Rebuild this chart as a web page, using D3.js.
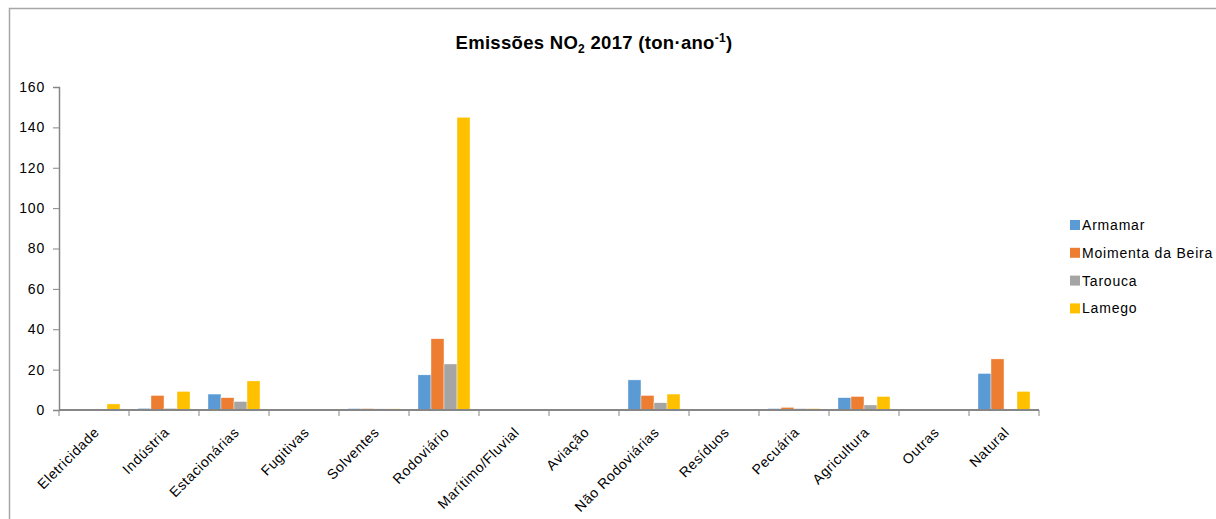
<!DOCTYPE html>
<html><head><meta charset="utf-8">
<script src="https://cdn.jsdelivr.net/npm/d3@7"></script>
<style>body{margin:0;background:#fff}svg{display:block}text{font-family:"Liberation Sans",Arial,sans-serif;fill:#000}</style>
</head><body>
<svg id="c" width="1216" height="519"></svg>
<script>
const categories = ["Eletricidade","Indústria","Estacionárias","Fugitivas","Solventes","Rodoviário","Marítimo/Fluvial","Aviação","Não Rodoviárias","Resíduos","Pecuária","Agricultura","Outras","Natural"];
const seriesNames = ["Armamar","Moimenta da Beira","Tarouca","Lamego"];
const armamar  = [0, 0.8, 7.9, 0, 0.7, 17.4, 0, 0, 14.9, 0, 0.7, 6.1, 0, 18.1];
const moimenta = [0, 7.2, 6.1, 0, 0.7, 35.3, 0, 0, 7.2, 0, 1.3, 6.7, 0, 25.3];
const tarouca  = [0, 0.8, 4.2, 0, 0.6, 22.8, 0, 0, 3.6, 0, 0.7, 2.5, 0, 0];
const lamego   = [3.0, 9.2, 14.4, 0, 0.6, 145, 0, 0, 7.9, 0, 0.7, 6.7, 0, 9.2];
const yTicks = [0,20,40,60,80,100,120,140,160];
const colors = ["#5B9BD5","#ED7D31","#A5A5A5","#FFC000"];
const seriesValues = [armamar, moimenta, tarouca, lamego];

const svg = d3.select("#c");
// outer frame
svg.append("path").attr("d","M9.5,530 V8.5 H1230").attr("fill","none").attr("stroke","#a6a6a6").attr("stroke-width",1.5);

const x0 = d3.scaleBand().domain(categories).range([59,1039]).paddingInner(0).paddingOuter(0);
const x1 = d3.scaleBand().domain(seriesNames).range([0,x0.bandwidth()]).paddingOuter(0.69).paddingInner(0);
const y = d3.scaleLinear().domain([0,160]).range([410,87]);

// bars
seriesNames.forEach((s,si)=>{
  svg.append("g").selectAll("rect").data(categories).join("rect")
    .attr("x",c=>x0(c)+x1(s))
    .attr("width",x1.bandwidth())
    .attr("y",(c,i)=>y(seriesValues[si][i]))
    .attr("height",(c,i)=>y(0)-y(seriesValues[si][i]))
    .attr("fill",colors[si])
    .attr("stroke","#fff").attr("stroke-width",0.4);
});

// y axis
const ya = svg.append("g").attr("transform","translate(59,0)")
  .call(d3.axisLeft(y).tickValues(yTicks).tickSize(6).tickPadding(8).tickFormat(d3.format("d")));
ya.select(".domain").attr("stroke","#868686").attr("stroke-width",1.5);
ya.selectAll(".tick line").attr("stroke","#868686");
ya.selectAll(".tick text").attr("font-size",14).attr("letter-spacing","0.8px")
  .attr("font-family","Liberation Sans, Arial, sans-serif").attr("fill","#000");

// x axis
const xa = svg.append("g").attr("transform","translate(0,410)");
xa.append("line").attr("x1",59).attr("x2",1039).attr("y1",0).attr("y2",0).attr("stroke","#868686").attr("stroke-width",2);
const edges = categories.map(c=>x0(c)).concat([x0.range()[1]]);
xa.selectAll("line.tk").data(edges).join("line").attr("class","tk")
  .attr("x1",d=>d).attr("x2",d=>d).attr("y1",0).attr("y2",6).attr("stroke","#868686");
xa.selectAll("text.lbl").data(categories).join("text").attr("class","lbl")
  .attr("text-anchor","end")
  .attr("font-size",14).attr("letter-spacing","0.6px")
  .attr("transform",c=>`translate(${x0(c)+x0.bandwidth()/2-1},${16}) rotate(-45)`)
  .attr("dy","0.72em")
  .text(c=>c);

// title
const t = svg.append("text").attr("x",594).attr("y",49).attr("text-anchor","middle")
  .attr("font-size",18.5).attr("font-weight","bold").attr("letter-spacing","0.3px");
t.append("tspan").text("Emissões NO");
t.append("tspan").attr("font-size",12).attr("dy",4).text("2");
t.append("tspan").attr("dy",-4).text(" 2017 (ton·ano");
t.append("tspan").attr("font-size",12).attr("dy",-7).text("-1");
t.append("tspan").attr("dy",7).text(")");

// legend
const lg = svg.append("g");
seriesNames.forEach((s,i)=>{
  const cy = 225 + i*27.8;
  lg.append("rect").attr("x",1070).attr("y",cy-5).attr("width",10).attr("height",10).attr("fill",colors[i]);
  lg.append("text").attr("x",1082).attr("y",cy+5).attr("font-size",14).attr("letter-spacing","0.8px").text(s);
});
</script>
</body></html>
